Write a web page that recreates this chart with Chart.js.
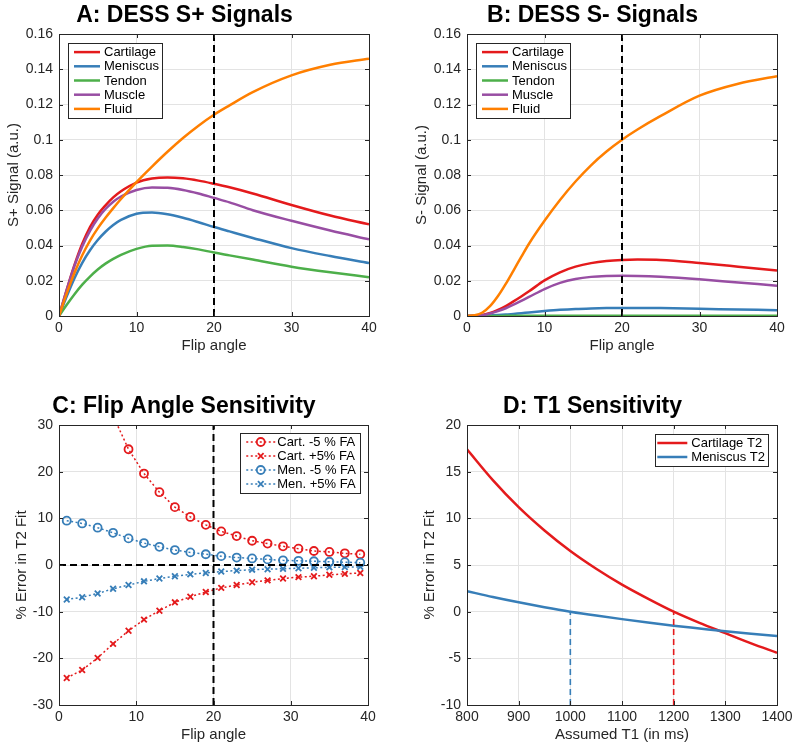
<!DOCTYPE html>
<html>
<head>
<meta charset="utf-8">
<script src="https://cdn.jsdelivr.net/npm/chart.js@4/dist/chart.umd.min.js"></script>
<style>
  html, body { margin: 0; padding: 0; background: #fff; }
  #wrap { position: relative; width: 800px; height: 751px; overflow: hidden; }
  canvas { position: absolute; }
</style>
</head>
<body>
<div id="wrap">
  <canvas id="chartA" width="400" height="362" style="left:0px;top:0px;"></canvas>
  <canvas id="chartB" width="392" height="362" style="left:408px;top:0px;"></canvas>
  <canvas id="chartC" width="400" height="360" style="left:0px;top:391px;"></canvas>
  <canvas id="chartD" width="392" height="360" style="left:408px;top:391px;"></canvas>
</div>
<script>
// ---- data ----
const tissues = ["Cartilage", "Meniscus", "Tendon", "Muscle", "Fluid"];
const flipAngles = [0, 1, 2, 3, 4, 5, 6, 7, 8, 10, 12, 14, 16, 18, 20, 22, 25, 30, 35, 40];

// A: S+ signal
const splusCartilage = [0, 0.015, 0.029, 0.041, 0.0505, 0.0575, 0.0628, 0.0673, 0.0708, 0.0757, 0.0780, 0.0786, 0.0781, 0.0768, 0.075, 0.073, 0.0695, 0.063, 0.057, 0.052];
const splusMeniscus = [0, 0.0112, 0.0215, 0.0302, 0.0373, 0.0431, 0.0478, 0.0516, 0.0545, 0.0580, 0.0587, 0.0577, 0.0557, 0.0532, 0.0505, 0.048, 0.0443, 0.0385, 0.034, 0.030];
const splusTendon = [0, 0.0064, 0.0124, 0.0178, 0.0224, 0.0264, 0.0297, 0.0324, 0.0347, 0.0381, 0.0399, 0.0400, 0.0392, 0.0378, 0.036, 0.0344, 0.032, 0.028, 0.0248, 0.022];
const splusMuscle = [0, 0.0148, 0.0285, 0.0395, 0.0483, 0.0553, 0.0607, 0.0648, 0.0678, 0.0715, 0.0729, 0.0727, 0.0715, 0.0695, 0.067, 0.0645, 0.060, 0.054, 0.0485, 0.0435];
const splusFluid = [0, 0.0128, 0.0245, 0.0345, 0.0428, 0.0497, 0.0557, 0.0612, 0.0664, 0.0760, 0.0848, 0.0932, 0.1010, 0.1080, 0.1142, 0.1195, 0.1270, 0.1365, 0.1425, 0.146];

// B: S- signal
const sminusCartilage = [0, 0.0001, 0.0006, 0.0017, 0.0034, 0.0056, 0.0083, 0.0111, 0.0140, 0.0202, 0.0248, 0.0280, 0.0300, 0.0312, 0.0318, 0.0320, 0.0318, 0.0301, 0.0280, 0.0258];
const sminusMeniscus = [0, 0, 0.0001, 0.0003, 0.0005, 0.0008, 0.0012, 0.0016, 0.002, 0.0028, 0.0035, 0.004, 0.0043, 0.0045, 0.0046, 0.0046, 0.0045, 0.0041, 0.0037, 0.0033];
const sminusTendon = [0, 0, 0, 0, 0, 0.0001, 0.0001, 0.0001, 0.0001, 0.0002, 0.0002, 0.0002, 0.0002, 0.0002, 0.0002, 0.0002, 0.0002, 0.0002, 0.0002, 0.0002];
const sminusMuscle = [0, 0.0001, 0.0005, 0.0014, 0.0028, 0.0044, 0.0064, 0.0086, 0.0108, 0.0153, 0.0188, 0.0210, 0.0222, 0.0227, 0.0228, 0.0227, 0.0222, 0.0208, 0.019, 0.0172];
const sminusFluid = [0, 0.0004, 0.0020, 0.0057, 0.0113, 0.0182, 0.0258, 0.0335, 0.0410, 0.0540, 0.0658, 0.0763, 0.0855, 0.0933, 0.1000, 0.1058, 0.1135, 0.1250, 0.1318, 0.1360];

// C: flip angle sensitivity (% error in T2 fit)
const sensAngles = [1, 3, 5, 7, 9, 11, 13, 15, 17, 19, 21, 23, 25, 27, 29, 31, 33, 35, 37, 39];
const cartMinus5 = [130, 70, 45, 32, 24.8, 19.6, 15.6, 12.4, 10.3, 8.6, 7.2, 6.2, 5.2, 4.6, 4.0, 3.5, 3.0, 2.8, 2.5, 2.3];
const cartPlus5 = [-24.2, -22.5, -19.9, -16.9, -14.1, -11.7, -9.8, -8.0, -6.8, -5.8, -4.9, -4.3, -3.7, -3.3, -2.9, -2.6, -2.4, -2.1, -1.9, -1.7];
const menMinus5 = [9.5, 8.9, 8.0, 6.9, 5.7, 4.7, 3.9, 3.2, 2.7, 2.3, 1.9, 1.6, 1.4, 1.2, 1.0, 0.9, 0.8, 0.7, 0.6, 0.5];
const menPlus5 = [-7.4, -6.9, -6.1, -5.1, -4.3, -3.5, -2.9, -2.4, -2.0, -1.7, -1.4, -1.2, -1.0, -0.9, -0.8, -0.7, -0.6, -0.5, -0.45, -0.4];

// D: T1 sensitivity
const assumedT1 = [800, 850, 900, 950, 1000, 1050, 1100, 1150, 1200, 1250, 1300, 1350, 1400];
const cartT2Error = [17.4, 14.1, 11.2, 8.7, 6.5, 4.6, 2.9, 1.4, 0, -1.2, -2.3, -3.4, -4.4];
const menT2Error = [2.2, 1.57, 1.0, 0.48, 0, -0.42, -0.8, -1.16, -1.5, -1.8, -2.1, -2.36, -2.6];
const cartT1 = 1200;
const menT1 = 1000;

const chosenFlip = 20;
const colors = ["#e41a1c", "#377eb8", "#4daf4a", "#984ea3", "#ff7f00"];

const FONT = '"Liberation Sans", Arial, Helvetica, sans-serif';
const INK = "#262626";

// helpers
function xy(xs, ys) {
  return xs.map((x, i) => ({ x: x, y: ys[i] }));
}

function curve(label, xs, ys, color, order) {
  return {
    label: label,
    data: xy(xs, ys),
    borderColor: color,
    backgroundColor: color,
    borderWidth: 2.5,
    pointRadius: 0,
    cubicInterpolationMode: "monotone",
    order: order,
  };
}

function refLine(points, color, width, dash) {
  return {
    label: "",
    data: points,
    borderColor: color,
    borderWidth: width,
    borderDash: dash,
    pointRadius: 0,
    hideInLegend: true,
    order: 0,
  };
}

function fmt(v) {
  return String(+Number(v).toFixed(3));
}

// box around the plot with inward ticks, like a matlab axes
const framePlugin = {
  id: "frame",
  afterDatasetsDraw(chart) {
    const { ctx, chartArea: a, scales } = chart;
    ctx.save();
    ctx.strokeStyle = INK;
    ctx.lineWidth = 1;
    ctx.setLineDash([]);
    ctx.beginPath();
    scales.x.ticks.forEach((t) => {
      const px = Math.round(scales.x.getPixelForValue(t.value)) + 0.5;
      ctx.moveTo(px, a.bottom); ctx.lineTo(px, a.bottom - 4);
      ctx.moveTo(px, a.top); ctx.lineTo(px, a.top + 4);
    });
    scales.y.ticks.forEach((t) => {
      const py = Math.round(scales.y.getPixelForValue(t.value)) + 0.5;
      ctx.moveTo(a.left, py); ctx.lineTo(a.left + 4, py);
      ctx.moveTo(a.right, py); ctx.lineTo(a.right - 4, py);
    });
    ctx.stroke();
    ctx.strokeRect(Math.round(a.left) + 0.5, Math.round(a.top) + 0.5,
      Math.round(a.right - a.left), Math.round(a.bottom - a.top));
    ctx.restore();
  },
};

// legend drawn inside the plot area
const boxLegend = {
  id: "boxLegend",
  afterDraw(chart, args, opts) {
    const { ctx, chartArea: a } = chart;
    const items = chart.data.datasets.filter((ds) => !ds.hideInLegend);
    ctx.save();
    ctx.font = "13px " + FONT;
    const textW = Math.max(...items.map((ds) => ctx.measureText(ds.label).width));
    const w = opts.padL + opts.sample + opts.gap + textW + opts.padR;
    const h = items.length * opts.rowH + 2 * opts.padY;
    const x = opts.corner === "right" ? a.right - opts.offset - w : a.left + opts.offset;
    const y = a.top + opts.offset;
    ctx.fillStyle = "#fff";
    ctx.fillRect(x, y, w, h);
    ctx.strokeStyle = INK;
    ctx.lineWidth = 1;
    ctx.strokeRect(Math.round(x) + 0.5, Math.round(y) + 0.5, Math.round(w), Math.round(h));
    items.forEach((ds, i) => {
      const cy = y + opts.padY + opts.rowH * (i + 0.5);
      const x0 = x + opts.padL;
      const x1 = x0 + opts.sample;
      ctx.strokeStyle = ds.borderColor;
      ctx.lineWidth = ds.borderWidth;
      ctx.setLineDash(ds.borderDash || []);
      ctx.beginPath();
      ctx.moveTo(x0, cy);
      ctx.lineTo(x1, cy);
      ctx.stroke();
      ctx.setLineDash([]);
      if (ds.pointRadius > 0) {
        ctx.fillStyle = "rgba(0,0,0,0)";
        ctx.lineWidth = ds.pointBorderWidth;
        Chart.helpers.drawPoint(ctx, {
          pointStyle: ds.pointStyle,
          radius: ds.pointRadius,
          borderWidth: ds.pointBorderWidth,
          rotation: 0,
        }, (x0 + x1) / 2, cy);
      }
      ctx.fillStyle = "#000";
      ctx.textBaseline = "middle";
      ctx.textAlign = "left";
      ctx.fillText(ds.label, x1 + opts.gap, cy + 0.5);
    });
    ctx.restore();
  },
};

function makeOptions(cfg) {
  return {
    responsive: false,
    animation: false,
    events: [],
    layout: { padding: { left: 0, right: cfg.padRight, top: 0, bottom: 0 } },
    plugins: {
      legend: { display: false },
      tooltip: { enabled: false },
      title: {
        display: true,
        text: cfg.title,
        color: "#000",
        font: { family: FONT, size: 23, weight: "bold", lineHeight: 1.2 },
        padding: { top: 2, bottom: 4.4 },
      },
      boxLegend: cfg.legend,
    },
    scales: {
      x: {
        type: "linear",
        min: cfg.xMin,
        max: cfg.xMax,
        afterFit: (s) => { s.height = 46; },
        afterBuildTicks: (s) => {
          s.ticks = cfg.xTicks.map((v) => ({ value: v }));
        },
        border: { display: false },
        grid: { color: "#e3e3e3", drawTicks: false },
        ticks: { color: INK, padding: 4, font: { family: FONT, size: 14 }, callback: fmt, maxRotation: 0 },
        title: {
          display: true,
          text: cfg.xTitle,
          color: INK,
          font: { family: FONT, size: 15, lineHeight: 1.2 },
          padding: { top: 0, bottom: 7 },
        },
      },
      y: {
        type: "linear",
        min: cfg.yMin,
        max: cfg.yMax,
        afterFit: (s) => { s.width = 59; },
        afterBuildTicks: (s) => {
          s.ticks = cfg.yTicks.map((v) => ({ value: v }));
        },
        border: { display: false },
        grid: { color: "#e3e3e3", drawTicks: false },
        ticks: { color: INK, padding: 6, font: { family: FONT, size: 14 }, callback: fmt },
        title: {
          display: true,
          text: cfg.yTitle,
          color: INK,
          font: { family: FONT, size: 15, lineHeight: 1.2 },
          padding: { top: cfg.yTitlePad, bottom: 0 },
        },
      },
    },
  };
}

const flipTicks = [0, 10, 20, 30, 40];
const signalTicks = [0, 0.02, 0.04, 0.06, 0.08, 0.1, 0.12, 0.14, 0.16];
const leftLegend = { corner: "left", offset: 9, padL: 6, sample: 26, gap: 4, padR: 3, rowH: 14.2, padY: 2 };

document.addEventListener("DOMContentLoaded", function () {
  // A: S+ signals
  const plusSeries = [splusCartilage, splusMeniscus, splusTendon, splusMuscle, splusFluid];
  new Chart(document.getElementById("chartA"), {
    type: "line",
    data: {
      datasets: tissues.map((t, i) => curve(t, flipAngles, plusSeries[i], colors[i], 10 - i))
        .concat([refLine([{ x: chosenFlip, y: 0 }, { x: chosenFlip, y: 0.16 }], "#000", 2, [7, 4])]),
    },
    options: makeOptions({
      title: "A: DESS S+ Signals", padRight: 31,
      xMin: 0, xMax: 40, xTicks: flipTicks, xTitle: "Flip angle",
      yMin: 0, yMax: 0.16, yTicks: signalTicks, yTitle: "S+ Signal (a.u.)", yTitlePad: 5,
      legend: leftLegend,
    }),
    plugins: [framePlugin, boxLegend],
  });

  // B: S- signals
  const minusSeries = [sminusCartilage, sminusMeniscus, sminusTendon, sminusMuscle, sminusFluid];
  new Chart(document.getElementById("chartB"), {
    type: "line",
    data: {
      datasets: tissues.map((t, i) => curve(t, flipAngles, minusSeries[i], colors[i], 10 - i))
        .concat([refLine([{ x: chosenFlip, y: 0 }, { x: chosenFlip, y: 0.16 }], "#000", 2, [7, 4])]),
    },
    options: makeOptions({
      title: "B: DESS S- Signals", padRight: 23,
      xMin: 0, xMax: 40, xTicks: flipTicks, xTitle: "Flip angle",
      yMin: 0, yMax: 0.16, yTicks: signalTicks, yTitle: "S- Signal (a.u.)", yTitlePad: 5,
      legend: leftLegend,
    }),
    plugins: [framePlugin, boxLegend],
  });

  // C: flip angle sensitivity
  function dotted(label, ys, color, style, radius, order) {
    return {
      label: label,
      data: xy(sensAngles, ys),
      borderColor: color,
      borderWidth: 1.5,
      borderDash: [2, 2.5],
      pointStyle: style,
      pointRadius: radius,
      pointBorderWidth: 1.8,
      pointBorderColor: color,
      pointBackgroundColor: "rgba(0,0,0,0)",
      order: order,
    };
  }
  new Chart(document.getElementById("chartC"), {
    type: "line",
    data: {
      datasets: [
        dotted("Cart. -5 % FA", cartMinus5, colors[0], "circle", 4, 4),
        dotted("Cart. +5% FA", cartPlus5, colors[0], "crossRot", 4, 3),
        dotted("Men. -5 % FA", menMinus5, colors[1], "circle", 4, 2),
        dotted("Men. +5% FA", menPlus5, colors[1], "crossRot", 4, 1),
        refLine([{ x: 0, y: 0 }, { x: 40, y: 0 }], "#000", 2, [7, 4]),
        refLine([{ x: chosenFlip, y: -30 }, { x: chosenFlip, y: 30 }], "#000", 2, [7, 4]),
      ],
    },
    options: makeOptions({
      title: "C: Flip Angle Sensitivity", padRight: 32,
      xMin: 0, xMax: 40, xTicks: flipTicks, xTitle: "Flip angle",
      yMin: -30, yMax: 30, yTicks: [-30, -20, -10, 0, 10, 20, 30], yTitle: "% Error in T2 Fit", yTitlePad: 13,
      legend: { corner: "right", offset: 8, padL: 6, sample: 29, gap: 2, padR: 4, rowH: 14, padY: 2 },
    }),
    plugins: [framePlugin, boxLegend],
  });

  // D: T1 sensitivity
  new Chart(document.getElementById("chartD"), {
    type: "line",
    data: {
      datasets: [
        curve("Cartilage T2", assumedT1, cartT2Error, colors[0], 2),
        curve("Meniscus T2", assumedT1, menT2Error, colors[1], 1),
        refLine([{ x: menT1, y: -10 }, { x: menT1, y: 0 }], colors[1], 1.6, [6, 4]),
        refLine([{ x: cartT1, y: -10 }, { x: cartT1, y: 0 }], colors[0], 1.6, [6, 4]),
      ],
    },
    options: makeOptions({
      title: "D: T1 Sensitivity", padRight: 23,
      xMin: 800, xMax: 1400, xTicks: [800, 900, 1000, 1100, 1200, 1300, 1400], xTitle: "Assumed T1 (in ms)",
      yMin: -10, yMax: 20, yTicks: [-10, -5, 0, 5, 10, 15, 20], yTitle: "% Error in T2 Fit", yTitlePad: 13,
      legend: { corner: "right", offset: 9, padL: 2, sample: 30, gap: 4, padR: 3, rowH: 14, padY: 2 },
    }),
    plugins: [framePlugin, boxLegend],
  });
});
</script>
</body>
</html>
